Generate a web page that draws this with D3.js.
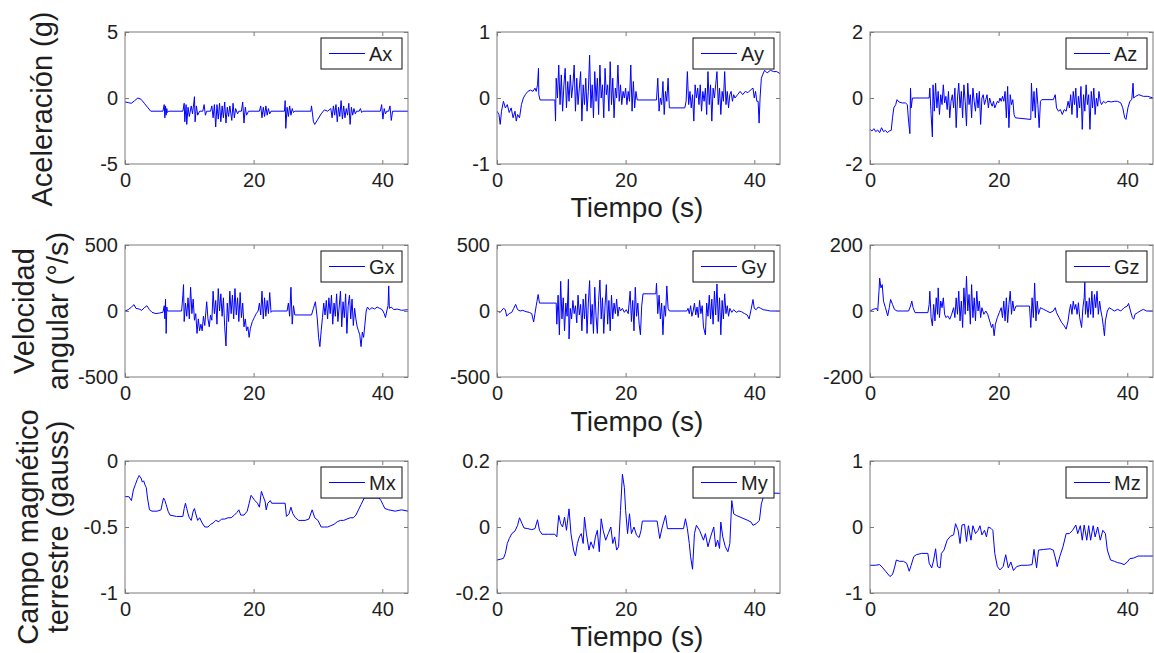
<!DOCTYPE html>
<html><head><meta charset="utf-8">
<script src="https://cdn.jsdelivr.net/npm/d3@7"></script>
<style>body{margin:0;background:#fff}svg{display:block}</style>
</head><body>
<svg id="c" width="1154" height="653"></svg>
<script>
// ---------- DATA (time in s, value) ----------
const xTicks = [0, 20, 40];
const xDomain = [0, 44];

const ax = [[0,-0.3],[0.5,-0.35],[1,-0.4],[1.5,-0.2],[2,0.0],[2.5,-0.1],[3,-0.4],[3.5,-0.7],[4,-1.0],[5.9,-1.0],[6.1,-0.5],[6.2,-1.5],[6.3,-0.6],[6.4,-1.3],[6.5,-0.8],[6.6,-1.1],[6.8,-1.0],[9.0,-1.0],[9.2,-0.4],[9.3,-1.8],[9.5,-0.5],[9.6,-2.0],[9.8,-0.7],[10.0,-1.4],[10.3,-0.6],[10.5,-1.2],[10.8,0.1],[10.9,-1.8],[11.1,-0.6],[11.3,-1.3],[11.6,-1.0],[12.1,-1.0],[12.3,-0.5],[12.5,-1.3],[12.7,-1.0],[13.3,-1.0],[13.5,-0.6],[13.7,-1.5],[13.9,-0.5],[14.1,-2.2],[14.3,-0.5],[14.5,-1.6],[14.7,-0.4],[14.9,-1.8],[15.1,-0.6],[15.3,-1.5],[15.5,-0.3],[15.7,-1.9],[15.9,-0.7],[16.1,-1.4],[16.3,-0.6],[16.6,-1.7],[16.8,-0.4],[17.0,-1.5],[17.2,-0.8],[17.5,-1.2],[17.7,-1.0],[18.1,-1.0],[18.3,-0.3],[18.5,-1.9],[18.7,-0.7],[18.9,-1.3],[19.2,-1.0],[20.9,-1.0],[21.1,-0.6],[21.3,-1.5],[21.5,-0.7],[21.7,-1.4],[21.9,-0.6],[22.1,-1.3],[22.3,-0.8],[22.5,-1.2],[22.7,-1.0],[24.8,-1.0],[24.9,-0.2],[25.0,-2.3],[25.2,-0.7],[25.4,-1.4],[25.6,-0.6],[25.8,-1.3],[26.0,-0.8],[26.2,-1.1],[26.4,-1.0],[28.9,-1.0],[29.0,-0.6],[29.3,-1.8],[29.5,-2.0],[30.0,-1.6],[30.5,-1.2],[31.0,-0.9],[31.5,-1.0],[32.0,-0.8],[32.2,-1.5],[32.4,-0.6],[32.6,-1.3],[32.8,-0.5],[33.0,-1.8],[33.2,-0.7],[33.4,-1.4],[33.6,-0.2],[33.8,-1.6],[34.0,-0.6],[34.2,-1.5],[34.4,-0.8],[34.6,-1.3],[34.8,-0.4],[35.0,-2.0],[35.2,-0.7],[35.4,-1.3],[35.6,-0.8],[35.8,-1.2],[36.0,-1.0],[36.4,-1.0],[36.6,-0.8],[36.8,-1.1],[37.0,-1.0],[39.7,-1.0],[39.9,-0.5],[40.1,-1.6],[40.3,-0.8],[40.5,-1.2],[40.7,-1.0],[41.0,-1.0],[41.2,-0.6],[41.4,-1.7],[41.6,-1.0],[44,-1.0]];

const ay = [[0,-0.2],[0.3,-0.25],[0.5,-0.4],[0.7,-0.2],[1,-0.05],[1.3,-0.15],[1.6,-0.1],[1.9,-0.22],[2.2,-0.15],[2.5,-0.3],[2.8,-0.2],[3.0,-0.35],[3.2,-0.25],[3.5,-0.3],[3.8,-0.1],[4.1,0.0],[4.4,0.05],[4.8,0.1],[5.2,0.12],[5.6,0.1],[5.9,0.15],[6.1,0.1],[6.3,0.2],[6.45,0.45],[6.5,0.05],[6.7,-0.03],[9.0,-0.03],[9.1,-0.35],[9.2,0.3],[9.4,0.0],[9.6,0.5],[9.8,-0.1],[10.0,0.35],[10.2,-0.2],[10.4,0.2],[10.6,0.45],[10.8,-0.15],[11.0,0.25],[11.2,-0.05],[11.4,0.35],[11.6,0.0],[11.8,0.2],[12.0,0.5],[12.2,-0.2],[12.4,0.3],[12.6,-0.1],[12.8,0.15],[13.0,0.4],[13.2,-0.35],[13.4,0.2],[13.6,-0.1],[13.8,0.3],[14.0,-0.2],[14.2,0.1],[14.4,0.65],[14.6,-0.15],[14.8,0.2],[15.0,-0.3],[15.2,0.4],[15.4,-0.05],[15.6,0.3],[15.8,-0.25],[16.0,0.5],[16.2,0.0],[16.4,0.2],[16.6,-0.3],[16.8,0.45],[17.0,0.05],[17.2,0.2],[17.4,-0.2],[17.6,0.55],[17.8,-0.1],[18.0,0.3],[18.2,-0.3],[18.4,0.15],[18.6,0.0],[18.8,0.5],[19.0,-0.05],[19.2,0.2],[19.4,-0.1],[19.6,0.1],[19.8,0.0],[20.0,0.15],[20.2,-0.1],[20.4,0.1],[20.6,-0.05],[20.8,0.5],[21.0,-0.2],[21.2,0.25],[21.4,-0.15],[21.6,0.1],[21.8,-0.03],[24.8,-0.03],[25.0,0.3],[25.2,-0.2],[25.4,0.0],[25.6,-0.1],[25.8,0.25],[26.0,-0.25],[26.2,0.1],[26.4,-0.05],[26.6,0.3],[26.8,-0.15],[29.2,-0.15],[29.4,-0.05],[29.6,0.4],[29.8,-0.1],[30.0,0.1],[30.2,-0.15],[30.4,0.05],[30.6,-0.35],[30.8,0.2],[31.0,0.0],[31.2,0.15],[31.4,-0.1],[31.6,0.2],[31.8,-0.2],[32.0,0.1],[32.2,-0.05],[32.4,0.15],[32.6,-0.25],[32.8,0.4],[33.0,-0.1],[33.2,0.2],[33.4,-0.35],[33.6,0.15],[33.8,0.0],[34.0,0.2],[34.2,0.4],[34.4,-0.1],[34.6,0.15],[34.8,-0.25],[35.0,0.1],[35.2,-0.05],[35.4,0.4],[35.6,-0.1],[35.8,0.1],[36.0,-0.15],[36.2,0.05],[36.4,0.1],[36.6,-0.05],[36.8,0.05],[37.0,0.0],[37.4,0.05],[37.8,0.1],[38.2,0.05],[38.6,0.1],[39.0,0.08],[39.4,0.12],[39.8,0.15],[40.0,0.0],[40.2,0.1],[40.4,-0.05],[40.6,-0.05],[40.75,-0.38],[40.9,0.0],[41.1,0.3],[41.3,0.35],[41.6,0.42],[42,0.38],[42.5,0.42],[43,0.4],[43.5,0.4],[44,0.37]];

const az = [[0,-0.95],[0.3,-1.0],[0.6,-0.93],[0.9,-1.02],[1.2,-0.97],[1.5,-1.05],[1.8,-0.9],[2.1,-1.02],[2.4,-0.98],[2.7,-1.05],[3.0,-1.0],[3.3,-0.98],[3.5,-0.6],[3.7,-0.3],[4.0,-0.2],[4.2,-0.05],[4.5,-0.12],[5.0,-0.15],[5.5,-0.15],[5.8,-0.2],[6.0,-0.7],[6.2,-1.08],[6.3,0.3],[6.4,-0.3],[6.6,0.0],[9.2,0.0],[9.3,0.3],[9.5,-0.5],[9.7,-1.18],[9.8,0.4],[10.0,-0.4],[10.2,0.45],[10.4,-0.3],[10.6,0.2],[10.8,-0.5],[11.0,0.1],[11.2,-0.2],[11.4,0.4],[11.6,-0.15],[11.8,0.05],[12.0,-0.35],[12.2,0.2],[12.4,-0.6],[12.6,-0.1],[12.8,0.1],[13.0,-0.3],[13.2,0.3],[13.4,-0.9],[13.6,0.0],[13.8,0.45],[14.0,-0.3],[14.2,0.2],[14.4,-0.6],[14.6,0.4],[14.8,-0.1],[15.0,-0.85],[15.2,0.45],[15.4,-0.2],[15.6,0.1],[15.8,-0.6],[16.0,0.3],[16.2,-0.1],[16.4,-0.4],[16.6,0.15],[16.8,-0.3],[17.0,0.2],[17.2,-0.8],[17.4,0.0],[17.6,0.1],[17.8,-0.2],[18.0,-0.05],[18.2,0.1],[18.4,-0.3],[18.6,0.0],[18.8,-0.15],[19.0,-0.25],[19.2,-0.1],[19.4,-0.3],[19.6,-0.2],[19.8,-0.1],[20.0,-0.15],[20.2,0.0],[20.4,-0.1],[20.6,0.05],[20.8,-0.1],[21.0,0.2],[21.2,-0.6],[21.4,0.35],[21.6,-0.9],[21.8,0.1],[22.0,-0.2],[22.2,-0.05],[22.4,-0.5],[22.6,-0.6],[25.0,-0.65],[25.1,0.45],[25.3,-0.4],[25.5,0.2],[25.7,-0.6],[25.9,0.3],[26.1,-0.2],[26.3,-0.9],[26.5,-0.1],[26.7,-0.05],[28.5,-0.05],[28.8,0.1],[29.0,-0.3],[29.3,-0.4],[29.6,-0.35],[29.9,-0.5],[30.2,-0.35],[30.5,-0.4],[30.8,-0.1],[31.0,-0.3],[31.2,0.1],[31.4,-0.5],[31.6,0.2],[31.8,-0.2],[32.0,0.3],[32.2,-0.6],[32.4,0.05],[32.6,-0.3],[32.8,0.35],[33.0,-0.95],[33.2,0.1],[33.4,-0.4],[33.6,0.4],[33.8,-0.2],[34.0,0.1],[34.2,-0.95],[34.4,0.2],[34.6,-0.3],[34.8,0.3],[35.0,-0.5],[35.2,0.0],[35.4,-0.25],[35.6,0.2],[35.8,-0.1],[36.0,-0.2],[36.3,-0.1],[36.6,-0.15],[37.0,-0.1],[37.5,-0.12],[38.0,-0.1],[38.5,-0.1],[39.0,-0.15],[39.3,-0.3],[39.6,-0.6],[39.8,-0.65],[40.1,-0.3],[40.4,-0.1],[40.7,-0.05],[40.9,0.45],[41.0,0.0],[41.3,0.05],[41.8,0.1],[42.5,0.05],[43.2,0.05],[44,0.0]];

const gx = [[0,0],[0.5,10],[1.0,30],[1.4,48],[1.7,20],[2.2,15],[2.6,5],[3.0,25],[3.4,40],[3.8,10],[4.2,-10],[4.8,-20],[5.4,-15],[5.9,-10],[6.1,40],[6.2,-60],[6.3,90],[6.4,-170],[6.5,30],[6.6,0],[8.8,0],[9.0,120],[9.1,200],[9.2,-80],[9.4,60],[9.6,-40],[9.8,100],[10.0,-60],[10.2,180],[10.4,-20],[10.6,90],[10.8,-70],[11.0,-20],[11.2,-170],[11.4,-60],[11.6,-150],[11.8,-100],[12.0,-150],[12.2,-40],[12.4,-110],[12.7,70],[12.9,-60],[13.1,-120],[13.3,-30],[13.5,-70],[13.7,150],[13.9,-20],[14.1,80],[14.3,-100],[14.5,170],[14.7,0],[14.9,130],[15.1,-40],[15.3,100],[15.5,-120],[15.7,-265],[15.9,60],[16.1,-80],[16.3,150],[16.5,-20],[16.7,120],[16.9,-60],[17.1,170],[17.3,-30],[17.5,100],[17.7,-80],[17.9,140],[18.1,-50],[18.3,60],[18.5,-120],[18.7,-60],[18.9,-150],[19.1,-120],[19.3,-200],[19.5,-130],[19.8,-80],[20.1,-50],[20.4,-20],[20.7,0],[20.9,60],[21.1,-30],[21.3,150],[21.5,-60],[21.7,100],[21.9,-40],[22.1,80],[22.3,-20],[22.5,140],[22.7,-10],[22.9,0],[25.2,0],[25.4,60],[25.6,-40],[25.8,180],[26.0,-100],[26.2,40],[26.4,-30],[29.0,-30],[29.3,20],[29.6,70],[29.9,-60],[30.1,-200],[30.3,-270],[30.5,-150],[30.7,-50],[30.9,60],[31.1,-30],[31.3,80],[31.5,-60],[31.7,100],[31.9,-20],[32.1,120],[32.3,-100],[32.5,60],[32.7,-40],[32.9,130],[33.1,-80],[33.3,30],[33.5,150],[33.7,-120],[33.9,70],[34.1,-50],[34.3,130],[34.5,-170],[34.7,40],[34.9,120],[35.1,-60],[35.3,90],[35.5,-110],[35.7,20],[35.9,-60],[36.1,-120],[36.3,-150],[36.5,-180],[36.7,-270],[36.9,-160],[37.1,-200],[37.3,-100],[37.5,0],[37.7,30],[38.0,10],[38.4,25],[38.8,15],[39.2,30],[39.6,20],[40.0,10],[40.3,-20],[40.5,-50],[40.7,0],[40.9,40],[41.0,190],[41.1,20],[41.4,30],[41.8,10],[42.3,15],[43,5],[44,10]];

const gy = [[0,0],[0.5,-10],[1.0,20],[1.3,10],[1.5,-38],[1.9,-20],[2.3,-10],[2.6,20],[2.9,50],[3.2,10],[3.6,0],[4.0,5],[4.5,-5],[5.0,-10],[5.4,-20],[5.7,-83],[5.9,-20],[6.1,40],[6.2,70],[6.4,125],[6.6,60],[9.2,60],[9.3,-100],[9.5,120],[9.7,-180],[9.9,225],[10.1,-60],[10.3,100],[10.5,-150],[10.7,60],[10.9,-40],[11.1,240],[11.2,-212],[11.4,20],[11.6,-60],[11.8,80],[12.0,-20],[12.2,40],[12.4,-90],[12.6,120],[12.8,-30],[13.0,50],[13.2,-150],[13.4,90],[13.6,-60],[13.8,130],[14.0,-170],[14.2,60],[14.4,230],[14.6,-100],[14.8,50],[15.0,-170],[15.2,180],[15.4,-40],[15.6,-170],[15.8,80],[16.0,235],[16.2,-60],[16.4,100],[16.6,-170],[16.8,40],[17.0,200],[17.2,-100],[17.4,80],[17.6,-150],[17.8,120],[18.0,-60],[18.2,60],[18.4,-20],[18.6,90],[18.8,-40],[19.0,30],[19.2,0],[19.5,20],[19.8,-10],[20.1,10],[20.4,-20],[20.7,150],[20.9,-80],[21.1,80],[21.3,-150],[21.5,180],[21.7,-40],[21.9,60],[22.1,-100],[22.3,-180],[22.5,40],[22.7,130],[24.7,130],[24.8,210],[25.0,-20],[25.2,120],[25.4,-60],[25.6,60],[25.8,-180],[26.0,40],[26.2,-40],[26.4,190],[26.6,20],[26.8,0],[29.5,0],[29.7,20],[29.9,-20],[30.1,40],[30.3,-40],[30.5,0],[30.7,60],[30.9,-30],[31.1,30],[31.3,-50],[31.5,80],[31.7,-20],[31.9,40],[32.1,-120],[32.4,-182],[32.6,60],[32.8,-40],[33.0,120],[33.2,-60],[33.4,90],[33.6,-100],[33.8,150],[34.0,-30],[34.2,205],[34.4,-80],[34.6,100],[34.8,-180],[35.0,80],[35.2,-60],[35.4,130],[35.6,-20],[35.8,40],[36.0,-40],[36.2,20],[36.5,-10],[36.8,10],[37.2,-10],[37.6,0],[38.0,-5],[38.5,-20],[38.9,-30],[39.2,-60],[39.5,10],[39.8,87],[40.0,20],[40.3,10],[40.6,30],[41.0,20],[41.4,10],[42,5],[42.5,0],[44,0]];

const gz = [[0,0],[0.5,5],[1.0,8],[1.2,0],[1.4,60],[1.5,100],[1.7,70],[1.9,80],[2.1,30],[2.4,10],[2.75,-15],[3.0,10],[3.2,35],[3.5,20],[3.8,5],[4.2,0],[5.0,0],[6.0,0],[6.3,15],[6.5,30],[6.7,10],[7.0,-5],[9.0,-5],[9.2,20],[9.3,60],[9.5,-20],[9.7,-45],[9.9,20],[10.1,-30],[10.3,40],[10.5,-10],[10.6,70],[10.8,-20],[11.0,30],[11.2,10],[11.4,40],[11.6,-10],[11.8,-20],[12.1,-15],[12.4,-25],[12.7,-10],[13.0,10],[13.2,-20],[13.4,40],[13.6,-10],[13.8,60],[14.0,-30],[14.2,30],[14.4,-50],[14.6,70],[14.8,-10],[15.0,105],[15.2,0],[15.4,50],[15.6,-40],[15.8,80],[16.0,-20],[16.2,40],[16.4,-30],[16.6,60],[16.8,0],[17.0,30],[17.2,-20],[17.4,10],[17.7,-10],[18.0,0],[18.3,-10],[18.6,-30],[18.9,-50],[19.1,-40],[19.3,-75],[19.5,-40],[19.8,-20],[20.1,-5],[20.4,10],[20.6,-20],[20.8,30],[21.0,-30],[21.2,40],[21.4,-35],[21.6,20],[21.8,60],[22.0,-10],[22.2,30],[22.4,0],[22.7,15],[24.8,15],[25.0,-50],[25.2,40],[25.4,-20],[25.6,85],[25.8,-30],[26.0,30],[26.2,-10],[26.5,10],[27.0,5],[27.5,0],[28.0,-5],[28.5,0],[28.8,10],[29.0,-5],[29.4,-20],[29.8,-35],[30.2,-45],[30.5,-55],[30.8,-30],[31.0,0],[31.2,20],[31.4,-10],[31.6,30],[31.8,5],[32.0,20],[32.2,-10],[32.4,25],[32.6,-20],[32.9,-50],[33.1,10],[33.3,40],[33.4,87],[33.5,-10],[33.7,30],[33.9,-20],[34.1,40],[34.3,-10],[34.5,60],[34.7,-20],[34.9,50],[35.1,10],[35.3,60],[35.5,-10],[35.7,30],[35.9,0],[36.1,-20],[36.3,-50],[36.45,-75],[36.6,-30],[36.9,0],[37.2,10],[37.6,5],[38.0,0],[38.5,5],[39.0,0],[39.5,10],[40.0,15],[40.2,23],[40.5,0],[40.8,-20],[41.0,-25],[41.2,-10],[41.6,-5],[42.0,0],[42.5,5],[43,0],[44,0]];

const mx = [[0,-0.27],[0.6,-0.27],[1.0,-0.3],[1.3,-0.22],[1.6,-0.18],[1.9,-0.14],[2.2,-0.11],[2.5,-0.13],[2.7,-0.16],[2.9,-0.15],[3.1,-0.18],[3.3,-0.2],[3.5,-0.28],[3.8,-0.37],[4.2,-0.38],[5.0,-0.38],[5.6,-0.37],[5.8,-0.32],[6.0,-0.28],[6.2,-0.3],[6.4,-0.33],[6.7,-0.38],[7.0,-0.41],[8.0,-0.42],[9.0,-0.42],[9.2,-0.36],[9.4,-0.32],[9.6,-0.36],[9.8,-0.4],[10.0,-0.43],[10.3,-0.45],[10.6,-0.38],[10.8,-0.36],[11.0,-0.4],[11.3,-0.45],[11.6,-0.43],[12.0,-0.47],[12.4,-0.5],[12.9,-0.5],[13.3,-0.48],[13.7,-0.47],[14.1,-0.45],[14.6,-0.46],[15.0,-0.44],[15.5,-0.44],[16.0,-0.43],[16.5,-0.43],[17.0,-0.41],[17.4,-0.39],[17.7,-0.37],[18.0,-0.41],[18.5,-0.41],[19.0,-0.38],[19.3,-0.32],[19.6,-0.26],[19.9,-0.28],[20.2,-0.3],[20.6,-0.32],[20.9,-0.35],[21.2,-0.23],[21.5,-0.27],[21.8,-0.31],[21.95,-0.37],[22.2,-0.32],[22.6,-0.3],[22.8,-0.32],[24.9,-0.32],[25.1,-0.42],[25.5,-0.4],[25.8,-0.35],[26.1,-0.4],[26.5,-0.43],[27.0,-0.45],[28.0,-0.45],[28.6,-0.44],[29.1,-0.37],[29.5,-0.43],[30.0,-0.45],[30.5,-0.5],[31.0,-0.5],[31.5,-0.5],[32.0,-0.49],[32.5,-0.48],[33.0,-0.46],[33.5,-0.45],[34.0,-0.45],[34.5,-0.44],[35.0,-0.43],[35.5,-0.43],[35.9,-0.41],[36.3,-0.37],[36.7,-0.33],[37.2,-0.28],[37.8,-0.28],[38.4,-0.28],[39.0,-0.28],[39.5,-0.28],[39.8,-0.3],[40.1,-0.33],[40.4,-0.36],[41.0,-0.37],[42.0,-0.38],[43.0,-0.37],[44,-0.38]];

const my = [[0,-0.1],[0.5,-0.098],[1.0,-0.095],[1.3,-0.08],[1.6,-0.05],[1.9,-0.035],[2.3,-0.02],[2.8,-0.012],[3.2,0.005],[3.5,0.028],[3.9,0.01],[4.2,-0.003],[4.8,-0.005],[5.4,-0.008],[5.9,-0.005],[6.3,0.022],[6.6,-0.01],[7.0,-0.022],[8.0,-0.022],[9.0,-0.022],[9.3,-0.03],[9.6,0.035],[9.9,0.01],[10.2,0.0],[10.5,0.03],[10.8,-0.01],[11.2,0.055],[11.5,-0.02],[11.9,-0.07],[12.2,-0.088],[12.5,-0.05],[12.8,-0.03],[13.1,-0.02],[13.4,-0.05],[13.6,0.03],[13.9,-0.02],[14.3,-0.07],[14.6,-0.045],[15.0,-0.065],[15.3,-0.03],[15.6,-0.01],[15.9,-0.075],[16.2,0.025],[16.5,-0.01],[16.9,-0.04],[17.3,-0.02],[17.7,0.0],[18.0,-0.05],[18.3,-0.03],[18.6,-0.07],[18.9,-0.06],[19.2,0.05],[19.5,0.16],[19.8,0.12],[20.0,0.05],[20.3,-0.02],[20.6,0.04],[20.9,-0.02],[21.3,0.0],[21.7,-0.025],[22.1,-0.032],[22.4,-0.01],[22.6,0.018],[24.9,0.018],[25.3,-0.035],[25.7,0.0],[26.2,0.035],[26.5,-0.005],[29.0,-0.005],[29.3,0.025],[29.6,-0.005],[29.9,-0.05],[30.1,-0.09],[30.4,-0.128],[30.7,-0.02],[31.0,0.005],[31.5,-0.01],[32.1,-0.04],[32.4,-0.02],[32.8,-0.06],[33.2,-0.03],[33.7,0.0],[34.0,-0.06],[34.3,-0.04],[34.6,-0.065],[34.8,0.015],[35.1,-0.03],[35.5,-0.06],[35.9,-0.075],[36.2,-0.05],[36.5,0.08],[36.8,0.04],[37.2,0.035],[37.8,0.03],[38.4,0.025],[39.0,0.02],[39.5,0.015],[39.8,0.005],[40.3,0.01],[40.8,0.02],[41.1,0.07],[41.4,0.09],[41.7,0.1],[42.5,0.103],[44,0.102]];

const mz = [[0,-0.58],[0.8,-0.58],[1.5,-0.57],[2.0,-0.62],[2.5,-0.68],[3.1,-0.75],[3.5,-0.72],[3.8,-0.62],[4.1,-0.5],[4.6,-0.52],[5.2,-0.52],[5.7,-0.55],[6.1,-0.67],[6.4,-0.58],[6.8,-0.45],[7.2,-0.42],[8.0,-0.4],[9.0,-0.4],[9.2,-0.55],[9.6,-0.62],[9.9,-0.5],[10.2,-0.33],[10.5,-0.6],[10.9,-0.62],[11.1,-0.4],[11.5,-0.35],[12.0,-0.2],[12.5,-0.14],[13.0,-0.12],[13.3,0.05],[13.7,-0.05],[14.0,-0.25],[14.3,0.03],[14.7,0.04],[15.0,-0.22],[15.3,0.02],[15.7,-0.2],[16.0,0.02],[16.4,-0.1],[16.8,-0.05],[17.1,0.02],[17.4,-0.12],[17.8,-0.05],[18.1,-0.15],[18.4,0.0],[18.8,-0.02],[19.1,-0.05],[19.4,-0.4],[19.8,-0.6],[20.2,-0.65],[20.7,-0.6],[21.1,-0.42],[21.5,-0.62],[21.9,-0.53],[22.3,-0.66],[22.8,-0.6],[23.5,-0.58],[24.5,-0.58],[25.2,-0.57],[25.5,-0.34],[25.9,-0.62],[26.2,-0.35],[27.0,-0.34],[28.0,-0.33],[28.5,-0.35],[28.9,-0.5],[29.1,-0.6],[29.5,-0.45],[30.0,-0.3],[30.5,-0.1],[31.0,-0.1],[31.5,-0.05],[32.0,0.03],[32.3,-0.1],[32.7,0.02],[33.0,-0.2],[33.3,0.03],[33.7,-0.2],[34.0,0.02],[34.3,-0.2],[34.7,0.02],[35.0,-0.15],[35.4,0.0],[35.8,-0.2],[36.2,-0.05],[36.6,-0.1],[36.9,-0.35],[37.4,-0.5],[38.0,-0.52],[38.5,-0.54],[39.0,-0.55],[39.5,-0.57],[40.0,-0.53],[40.4,-0.48],[41.0,-0.47],[41.7,-0.44],[42.5,-0.44],[43.2,-0.44],[44,-0.44]];

// tick values and labels per panel
const yTicksA = { ax:[-5,0,5], ay:[-1,0,1], az:[-2,0,2] };
const yLabA  = { ax:['-5','0','5'], ay:['-1','0','1'], az:['-2','0','2'] };
const yTicksG = { gx:[-500,0,500], gy:[-500,0,500], gz:[-200,0,200] };
const yLabG  = { gx:['-500','0','500'], gy:['-500','0','500'], gz:['-200','0','200'] };
const yTicksM = { mx:[-1,-0.5,0], my:[-0.2,0,0.2], mz:[-1,0,1] };
const yLabM  = { mx:['-1','-0.5','0'], my:['-0.2','0','0.2'], mz:['-1','0','1'] };
const legendNames = ['Ax','Ay','Az','Gx','Gy','Gz','Mx','My','Mz'];

// ---------- LAYOUT ----------
const svg = d3.select('#c');
const FONT = '"Liberation Sans", Arial, Helvetica, sans-serif';
const colX = [125, 497, 870], rowY = [32, 245, 461];
const pw = 283, ph = 132;
const frameCol = '#7a7a7a', textCol = '#1e1e1e', lineCol = '#0000ff';

const panels = [
  {data:ax, dom:[-5,5], t:yTicksA.ax, l:yLabA.ax},
  {data:ay, dom:[-1,1], t:yTicksA.ay, l:yLabA.ay},
  {data:az, dom:[-2,2], t:yTicksA.az, l:yLabA.az},
  {data:gx, dom:[-500,500], t:yTicksG.gx, l:yLabG.gx},
  {data:gy, dom:[-500,500], t:yTicksG.gy, l:yLabG.gy},
  {data:gz, dom:[-200,200], t:yTicksG.gz, l:yLabG.gz},
  {data:mx, dom:[-1,0], t:yTicksM.mx, l:yLabM.mx},
  {data:my, dom:[-0.2,0.2], t:yTicksM.my, l:yLabM.my},
  {data:mz, dom:[-1,1], t:yTicksM.mz, l:yLabM.mz}
];

function styleAxis(sel, withText) {
  sel.select('.domain').remove();
  sel.selectAll('line').attr('stroke', frameCol).attr('stroke-width', 1);
  sel.selectAll('text').attr('fill', textCol).attr('font-size', 20).attr('font-family', FONT);
  if (!withText) sel.selectAll('text').remove();
}

panels.forEach((p, i) => {
  const r = Math.floor(i / 3), c = i % 3;
  const x0 = colX[c], y0 = rowY[r];
  const x = d3.scaleLinear().domain(xDomain).range([x0, x0 + pw]);
  const y = d3.scaleLinear().domain(p.dom).range([y0 + ph, y0]);
  const g = svg.append('g');

  const clipId = 'clip' + i;
  svg.append('clipPath').attr('id', clipId).append('rect')
    .attr('x', x0).attr('y', y0).attr('width', pw).attr('height', ph);

  g.append('path').datum(p.data)
    .attr('clip-path', `url(#${clipId})`)
    .attr('d', d3.line().x(d => x(d[0])).y(d => y(d[1])))
    .attr('fill', 'none').attr('stroke', lineCol).attr('stroke-width', 1);

  // axes: bottom / left with labels, top / right without
  g.append('g').attr('transform', `translate(0,${y0 + ph})`)
    .call(d3.axisBottom(x).tickValues(xTicks).tickFormat(d3.format('d')).tickSizeInner(-4).tickSizeOuter(0).tickPadding(9))
    .call(s => styleAxis(s, true));
  g.append('g').attr('transform', `translate(0,${y0})`)
    .call(d3.axisTop(x).tickValues(xTicks).tickSizeInner(-4).tickSizeOuter(0))
    .call(s => styleAxis(s, false));
  g.append('g').attr('transform', `translate(${x0},0)`)
    .call(d3.axisLeft(y).tickValues(p.t).tickFormat((d, k) => p.l[k]).tickSizeInner(-4).tickSizeOuter(0).tickPadding(7))
    .call(s => styleAxis(s, true));
  g.append('g').attr('transform', `translate(${x0 + pw},0)`)
    .call(d3.axisRight(y).tickValues(p.t).tickSizeInner(-4).tickSizeOuter(0))
    .call(s => styleAxis(s, false));

  g.append('rect').attr('x', x0).attr('y', y0).attr('width', pw).attr('height', ph)
    .attr('fill', 'none').attr('stroke', frameCol).attr('stroke-width', 1);

  // legend
  const lw = 81, lh = 31;
  const lx = x0 + pw - 6 - lw, ly = y0 + 6;
  const lg = g.append('g');
  lg.append('rect').attr('x', lx).attr('y', ly).attr('width', lw).attr('height', lh)
    .attr('fill', '#fff').attr('stroke', '#111').attr('stroke-width', 1);
  lg.append('line').attr('x1', lx + 8).attr('x2', lx + 44).attr('y1', ly + lh / 2).attr('y2', ly + lh / 2)
    .attr('stroke', lineCol).attr('stroke-width', 1);
  lg.append('text').attr('x', lx + 48).attr('y', ly + lh / 2 + 7)
    .attr('font-size', 20).attr('font-family', FONT).attr('fill', textCol).text(legendNames[i]);
});

// axis titles
const titleSize = 28;
[217, 431, 646].forEach(yb => {
  svg.append('text').attr('x', 637).attr('y', yb).attr('text-anchor', 'middle')
    .attr('font-size', titleSize).attr('font-family', FONT).attr('fill', textCol).text('Tiempo (s)');
});
const yTitles = [
  {cy:109, lines:[['Aceleración (g)', 52]]},
  {cy:311, lines:[['Velocidad', 34], ['angular (°/s)', 68]]},
  {cy:527, lines:[['Campo magnético', 38], ['terrestre (gauss)', 68]]}
];
yTitles.forEach(t => {
  t.lines.forEach(([txt, bx]) => {
    svg.append('text').attr('transform', `translate(${bx},${t.cy}) rotate(-90)`)
      .attr('text-anchor', 'middle').attr('font-size', 29).attr('font-family', FONT)
      .attr('fill', textCol).text(txt);
  });
});
</script>
</body></html>
